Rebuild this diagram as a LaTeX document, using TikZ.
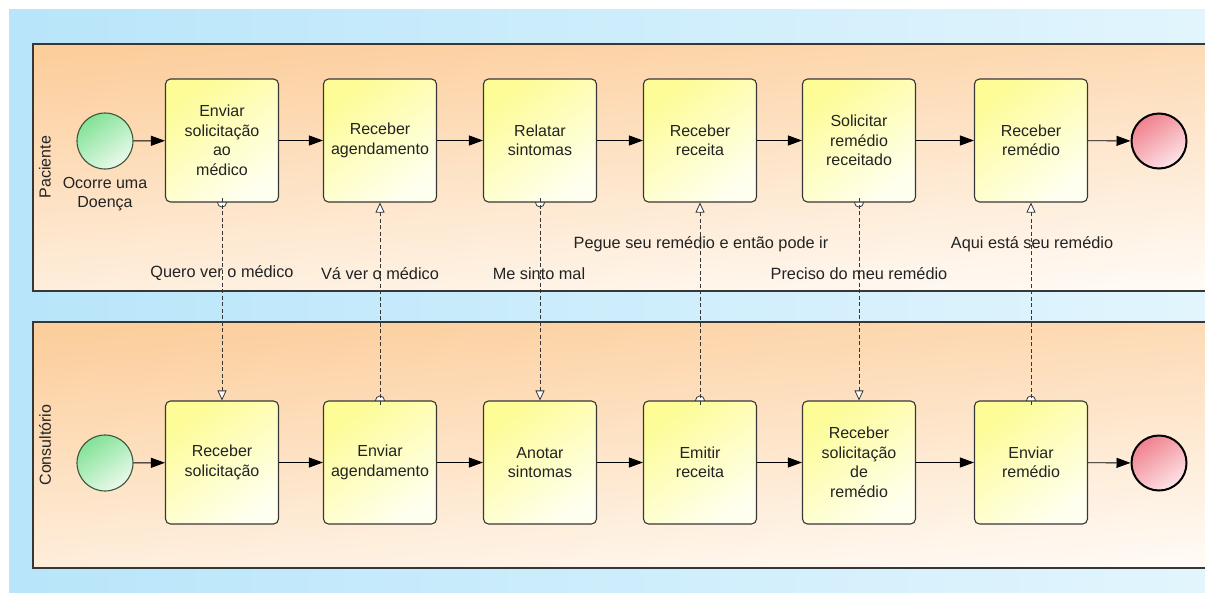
\documentclass[tikz,border=0pt]{standalone}
\usepackage{fontspec}
\setmainfont{Liberation Sans}
\usetikzlibrary{arrows.meta,positioning}
\pgfdeclarelayer{bg}
\pgfdeclarelayer{mid}
\pgfsetlayers{bg,mid,main}

\definecolor{skyA}{RGB}{184,229,250}
\definecolor{skyB}{RGB}{226,245,253}
\definecolor{poolTop}{RGB}{252,206,156}
\definecolor{poolBot}{RGB}{255,250,244}
\definecolor{taskA}{RGB}{253,252,150}
\definecolor{taskB}{RGB}{255,255,240}
\definecolor{startA}{RGB}{130,226,150}
\definecolor{startB}{RGB}{235,250,236}
\definecolor{endA}{RGB}{240,128,140}
\definecolor{endB}{RGB}{253,228,232}
\definecolor{edgegray}{RGB}{55,55,55}
\definecolor{inkgray}{RGB}{35,35,35}
\definecolor{startedge}{RGB}{60,85,60}

\tikzset{
  pool/.style={top color=poolTop, bottom color=poolBot, shading angle=5},
  pooledge/.style={draw=edgegray, line width=1.3pt},
  task/.style={draw=edgegray, line width=1.1pt, rounded corners=5pt,
    minimum width=113pt, minimum height=123pt, inner sep=0pt,
    top color=taskA, bottom color=taskB, shading angle=35,
    align=center, text=inkgray, font=\fontsize{16}{19.5}\selectfont},
  startev/.style={circle, draw=startedge, line width=1.1pt,
    minimum size=56pt, inner sep=0pt, top color=startA, bottom color=startB, shading angle=35},
  endev/.style={circle, draw=black, line width=2pt,
    minimum size=55pt, inner sep=0pt, top color=endA, bottom color=endB, shading angle=35},
  seqflow/.style={draw=black, line width=0.9pt, -{Triangle[length=14pt,width=10pt]}},
  msgflow/.style={draw=edgegray, line width=0.8pt, dash pattern=on 4pt off 2.5pt,
    -{Triangle[fill=white,length=10pt,width=9pt]}},
  msgdot/.style={draw=edgegray, line width=0.8pt, fill=white},
  msglabel/.style={text=inkgray, font=\fontsize{16.3}{18}\selectfont, inner sep=0pt},
  poollabel/.style={text=inkgray, font=\fontsize{16}{18}\selectfont, rotate=90, inner sep=0pt},
}

\begin{document}
\begin{tikzpicture}[x=1pt, y=-1pt]
\useasboundingbox (0,0) rectangle (1205,592);
\clip (0,0) rectangle (1205,592);

% backdrop and pools
\begin{pgfonlayer}{bg}
  \fill[white] (0,0) rectangle (1205,592);
  \shade[left color=skyA, right color=skyB] (9,9) rectangle (1205,592);
  \shade[pool] (33,44) rectangle (1215,291);
  \draw[pooledge] (33,44) rectangle (1215,291);
  \shade[pool] (33,322) rectangle (1215,568);
  \draw[pooledge] (33,322) rectangle (1215,568);
\end{pgfonlayer}
\node[poollabel] (lblP) at (45,167) {Paciente};
\node[poollabel] (lblC) at (45,445) {Consultório};

% Paciente lane
\node[startev] (s1) at (105,141) {};
\node[msglabel, align=center, font=\fontsize{16}{18.5}\selectfont] (s1lbl) at (105,194) {Ocorre uma\\Doença};
\node[task] (t1) at (222,140.5) {Enviar\\solicitação\\ao\\médico};
\node[task] (t2) at (380,140.5) {Receber\\agendamento};
\node[task] (t3) at (540,140.5) {Relatar\\sintomas};
\node[task] (t4) at (700,140.5) {Receber\\receita};
\node[task] (t5) at (859,140.5) {Solicitar\\remédio\\receitado};
\node[task] (t6) at (1031,140.5) {Receber\\remédio};
\node[endev] (e1) at (1159,141) {};

% Consultório lane
\node[startev] (s2) at (105,463) {};
\node[task] (b1) at (222,462.5) {Receber\\solicitação};
\node[task] (b2) at (380,462.5) {Enviar\\agendamento};
\node[task] (b3) at (540,462.5) {Anotar\\sintomas};
\node[task] (b4) at (700,462.5) {Emitir\\receita};
\node[task] (b5) at (859,462.5) {Receber\\solicitação\\de\\remédio};
\node[task] (b6) at (1031,462.5) {Enviar\\remédio};
\node[endev] (e2) at (1159,463) {};

% sequence flows
\draw[seqflow] (s1) -- (t1);
\draw[seqflow] (t1) -- (t2);
\draw[seqflow] (t2) -- (t3);
\draw[seqflow] (t3) -- (t4);
\draw[seqflow] (t4) -- (t5);
\draw[seqflow] (t5) -- (t6);
\draw[seqflow] (t6) -- (e1);
\draw[seqflow] (s2) -- (b1);
\draw[seqflow] (b1) -- (b2);
\draw[seqflow] (b2) -- (b3);
\draw[seqflow] (b3) -- (b4);
\draw[seqflow] (b4) -- (b5);
\draw[seqflow] (b5) -- (b6);
\draw[seqflow] (b6) -- (e2);

% message flows: source marker half hidden under the task
\begin{pgfonlayer}{mid}
  \draw[msgdot] (t1.south) circle (4.5pt);
  \draw[msgdot] (b2.north) circle (4.5pt);
  \draw[msgdot] (t3.south) circle (4.5pt);
  \draw[msgdot] (b4.north) circle (4.5pt);
  \draw[msgdot] (t5.south) circle (4.5pt);
  \draw[msgdot] (b6.north) circle (4.5pt);
\end{pgfonlayer}
\draw[msgflow] ([yshift=4.5pt]t1.south) -- (b1.north);
\draw[msgflow] ([yshift=-4.5pt]b2.north) -- (t2.south);
\draw[msgflow] ([yshift=4.5pt]t3.south) -- (b3.north);
\draw[msgflow] ([yshift=-4.5pt]b4.north) -- (t4.south);
\draw[msgflow] ([yshift=4.5pt]t5.south) -- (b5.north);
\draw[msgflow] ([yshift=-4.5pt]b6.north) -- (t6.south);

% message labels
\node[msglabel] (m1) at (222,273.5) {Quero ver o médico};
\node[msglabel] (m2) at (380,273.5) {Vá ver o médico};
\node[msglabel] (m3) at (539,273.5) {Me sinto mal};
\node[msglabel] (m4) at (701,244.5) {Pegue seu remédio e então pode ir};
\node[msglabel] (m5) at (859,273.5) {Preciso do meu remédio};
\node[msglabel] (m6) at (1032,244.5) {Aqui está seu remédio};
\end{tikzpicture}
\end{document}
